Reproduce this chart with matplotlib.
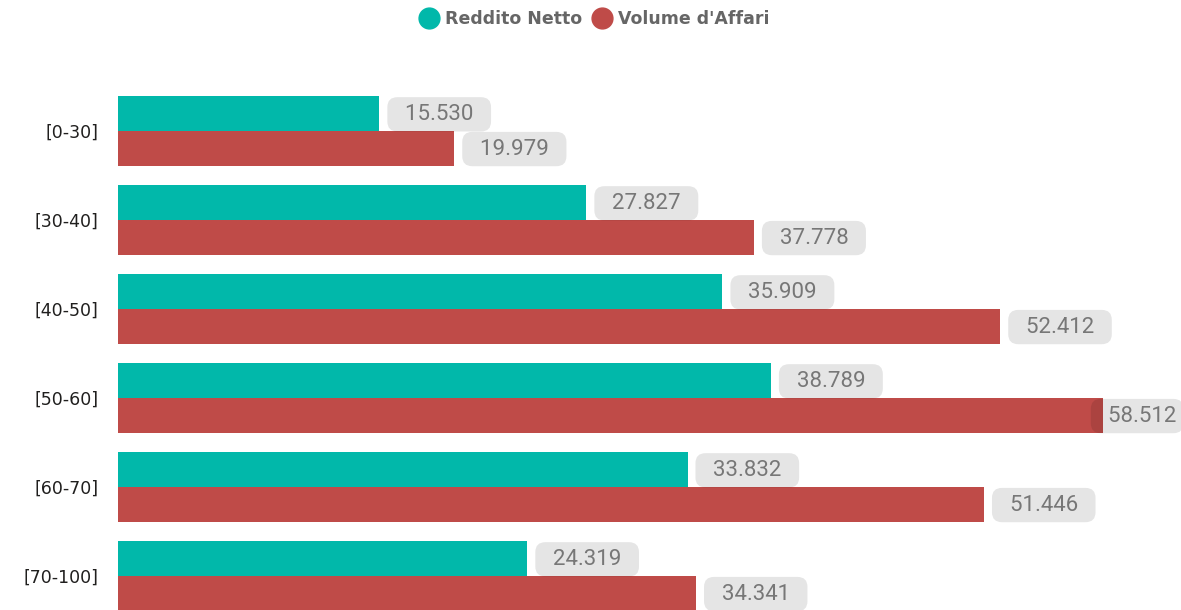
import matplotlib
matplotlib.use("Agg")
import matplotlib.pyplot as plt
from matplotlib.lines import Line2D

categories = ['[0-30]', '[30-40]', '[40-50]', '[50-60]', '[60-70]', '[70-100]']
reddito_netto = [15530, 27827, 35909, 38789, 33832, 24319]
volume_affari = [19979, 37778, 52412, 58512, 51446, 34341]
series_names = ['Reddito Netto', "Volume d'Affari"]

teal = '#01B8AA'
red = '#BF4B48'

W, H = 1181, 610
fig = plt.figure(figsize=(W / 100, H / 100), dpi=100)
# axes from x=118px to the right edge, y=40px down to the bottom edge
ax = fig.add_axes([118 / W, 0, 1 - 118 / W, 570 / H])

xmax = 63146
ax.set_xlim(0, xmax)
ax.set_ylim((610 - 131) / 89, (40 - 131) / 89)

bh = 0.39
ys = list(range(len(categories)))
ax.barh([y - bh / 2 for y in ys], reddito_netto, height=bh, color=teal)
ax.barh([y + bh / 2 for y in ys], volume_affari, height=bh, color=red)

def fmt(v):
    return f"{v:,}".replace(",", ".")

def label(v, y):
    box = dict(boxstyle='round,pad=0.3,rounding_size=0.45', fc='black', ec='none')
    if v + 6000 > xmax:
        t = ax.annotate('  ' + fmt(v), (xmax, y), xytext=(-3, -0.5), textcoords='offset points',
                        ha='right', va='center', fontsize=16, color='#777777',
                        family='Roboto', annotation_clip=False)
    else:
        t = ax.annotate('  ' + fmt(v) + '  ', (v, y), xytext=(10.5, -0.5), textcoords='offset points',
                        ha='left', va='center', fontsize=16, color='#777777',
                        family='Roboto', annotation_clip=False)
    t.set_bbox(box)
    t.get_bbox_patch().set_alpha(0.1)

for y, v in zip(ys, reddito_netto):
    label(v, y - bh / 2)
for y, v in zip(ys, volume_affari):
    label(v, y + bh / 2)

ax.set_yticks(ys)
ax.set_yticklabels(categories, fontsize=12.5, color='#201f1e')
ax.tick_params(axis='y', length=0, pad=14)
ax.set_xticks([])
for s in ax.spines.values():
    s.set_visible(False)

handles = [Line2D([], [], marker='o', linestyle='none', markersize=15, color=c)
           for c in (teal, red)]
leg = fig.legend(handles, series_names, loc='center', bbox_to_anchor=(0.5, 1 - 19 / H),
                 ncol=2, frameon=False, handletextpad=-0.1, columnspacing=0.15,
                 prop={'weight': 'bold', 'size': 12.5})
for t in leg.get_texts():
    t.set_color('#666666')

fig.savefig('out.png', dpi=100)
